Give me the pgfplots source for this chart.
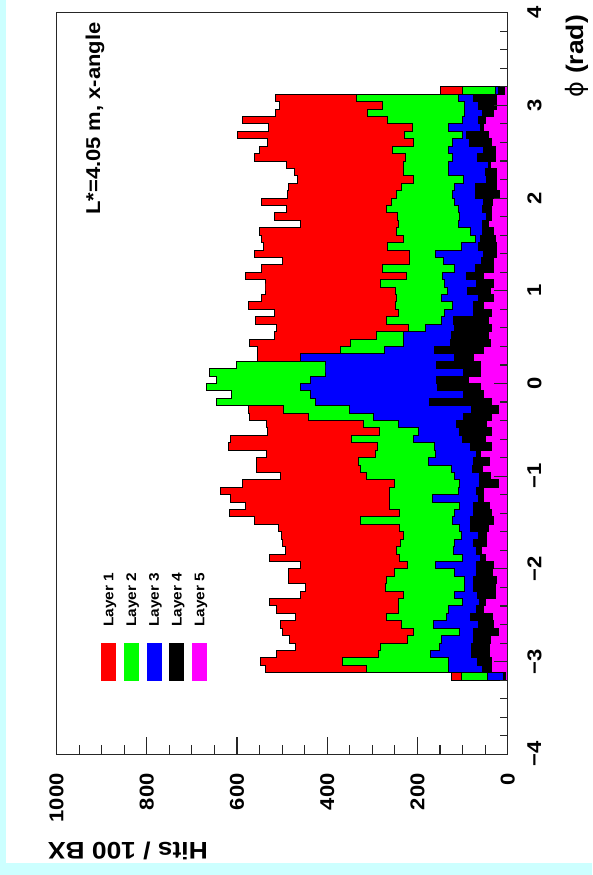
\documentclass[border=0pt]{standalone}
\usepackage{fontspec}
\setmainfont[FakeStretch=1.1]{Liberation Sans}
\newfontfamily\phifont{DejaVu Sans}
\usepackage{pgfplots}
\pgfplotsset{compat=1.18}
\usepackage{pgfplotstable}
\definecolor{bgcyan}{RGB}{204,255,255}
\definecolor{lred}{RGB}{255,0,0}
\definecolor{lgreen}{RGB}{0,255,0}
\definecolor{lblue}{RGB}{0,0,255}
\definecolor{lmag}{RGB}{255,0,255}
% phi = lower bin edge; L1..L5 = hits of each layer's histogram (drawn overlapping)
\pgfplotstableread{
phi L1 L2 L3 L4 L5
-3.20 0 0 0 0 0
-3.20 124 102 45 10 5
-3.12 538 312 131 55 35
-3.04 547 366 131 67 35
-2.96 513 287 172 80 41
-2.88 471 283 151 80 41
-2.80 484 222 146 76 39
-2.72 499 209 107 76 21
-2.64 503 235 165 65 32
-2.56 470 268 135 83 33
-2.48 513 242 131 69 54
-2.40 528 242 100 62 50
-2.32 459 230 119 66 26
-2.24 449 270 96 76 26
-2.16 486 268 96 76 24
-2.08 486 250 119 70 33
-2.00 460 222 161 69 32
-1.92 528 239 100 61 50
-1.84 493 246 120 69 58
-1.76 499 237 119 75 47
-1.68 501 230 102 65 48
-1.60 508 239 106 83 43
-1.52 562 327 122 83 32
-1.44 617 239 117 75 35
-1.36 582 261 107 76 41
-1.28 615 261 166 65 54
-1.20 636 261 109 69 54
-1.12 587 250 107 63 21
-1.04 503 312 117 63 38
-0.96 556 327 124 78 55
-0.88 556 331 176 76 41
-0.80 535 292 159 70 61
-0.72 620 289 163 83 35
-0.64 615 346 209 100 50
-0.56 532 284 198 107 35
-0.48 535 320 242 114 47
-0.40 572 442 298 98 35
-0.32 575 497 351 80 21
-0.24 646 646 425 174 35
-0.16 612 612 438 97 54
-0.08 667 667 459 156 61
0.00 645 645 438 157 87
0.08 662 662 405 98 60
0.16 602 602 405 157 61
0.24 554 460 460 117 75
0.32 554 370 274 163 54
0.40 572 348 231 126 38
0.48 516 290 231 124 43
0.56 513 220 183 117 35
0.64 558 268 146 120 43
0.72 518 242 139 76 37
0.80 575 248 122 76 54
0.88 545 246 146 65 32
0.96 538 248 134 89 39
1.04 538 283 139 69 32
1.12 582 224 144 91 54
1.20 545 278 117 72 32
1.28 499 218 143 57 32
1.36 562 218 159 54 24
1.44 541 266 102 65 24
1.52 545 230 72 61 26
1.60 550 246 83 55 32
1.68 459 242 109 55 43
1.76 518 244 107 48 35
1.84 491 268 109 55 35
1.92 545 258 117 54 33
2.00 488 246 122 72 18
2.08 486 235 117 72 24
2.16 466 209 98 48 24
2.24 473 230 131 50 24
2.32 491 230 131 43 38
2.40 562 226 122 67 28
2.48 550 256 131 54 28
2.56 532 209 123 85 35
2.64 600 229 100 91 43
2.72 530 210 131 61 54
2.80 587 266 100 65 50
2.88 515 310 96 55 32
2.96 505 278 96 65 24
3.04 515 335 108 76 24
3.12 148 100 27 21 6
3.20 148 100 27 21 6
3.20 0 0 0 0 0
}\hits
\begin{document}
\begin{tikzpicture}[x=1pt,y=1pt]
\useasboundingbox (0,0) rectangle (592,875);
\fill[bgcyan] (0,0) rectangle (592,875);
\fill[white] (6,12) rectangle (592,875);
\begin{axis}[
  at={(56.6pt,120.7pt)}, anchor=south west,
  scale only axis, width=451.1pt, height=741.6pt,
  xmin=0, xmax=1000, ymin=-4, ymax=4, x dir=reverse,
  axis on top,
  axis line style={line width=1.2pt, black!85},
  xtick={0,200,400,600,800,1000},
  xticklabels={0,200,400,600,800,1000},
  minor x tick num=3,
  ytick={-4,-3,-2,-1,0,1,2,3,4},
  yticklabels={−4,−3,−2,−1,0,1,2,3,4},
  minor y tick num=4,
  xtick pos=left, ytick pos=right,
  tick align=inside,
  xtick style={line width=1.1pt, black!85, /pgfplots/major tick length=17.7pt, /pgfplots/minor tick length=9.3pt},
  ytick style={line width=1.1pt, black!85, /pgfplots/major tick length=14pt, /pgfplots/minor tick length=7.5pt},
  xticklabel style={rotate=90, anchor=east, inner sep=0pt, font=\fontsize{20}{24}\selectfont\bfseries},
  xticklabel shift=19pt,
  yticklabel style={rotate=90, anchor=north, inner sep=0pt, font=\fontsize{20}{24}\selectfont\bfseries},
  yticklabel shift=19.5pt,
]
\addplot[fill=lred, draw=black, line width=1pt, const plot mark right] table[x=L1, y=phi] {\hits};
\addplot[fill=lgreen, draw=black, line width=1pt, const plot mark right] table[x=L2, y=phi] {\hits};
\addplot[fill=lblue, draw=black, line width=1pt, const plot mark right] table[x=L3, y=phi] {\hits};
\addplot[fill=black, draw=black, line width=1pt, const plot mark right] table[x=L4, y=phi] {\hits};
\addplot[fill=lmag, draw=black, line width=1pt, const plot mark right] table[x=L5, y=phi] {\hits};
\end{axis}
% legend
\fill[lred]   (101,194) rectangle (116,232);
\fill[lgreen] (123.75,194) rectangle (138.75,232);
\fill[lblue]  (146.5,194) rectangle (161.5,232);
\fill[black]  (169.25,194) rectangle (184.25,232);
\fill[lmag]   (192,194) rectangle (207,232);
\foreach \i/\t in {0/Layer 1,1/Layer 2,2/Layer 3,3/Layer 4,4/Layer 5}
  \node[rotate=90, anchor=base west, inner sep=0pt, font=\fontsize{14}{16}\selectfont\bfseries] at (113.3+22.75*\i, 248) {\t};
% axis titles
\node[rotate=180, anchor=base west, inner sep=0pt, font=\fontsize{24}{28}\selectfont\bfseries] at (208,32) {Hits / 100 BX};
\node[rotate=90, anchor=base east, inner sep=0pt, font=\fontsize{24}{28}\selectfont\bfseries] at (583,860) {{\phifont\mdseries ϕ} (rad)};
% annotation
\node[rotate=90, anchor=base west, inner sep=0pt, font=\fontsize{20}{24}\selectfont\bfseries] at (100,660) {L*=4.05 m, x-angle};
\end{tikzpicture}
\end{document}
